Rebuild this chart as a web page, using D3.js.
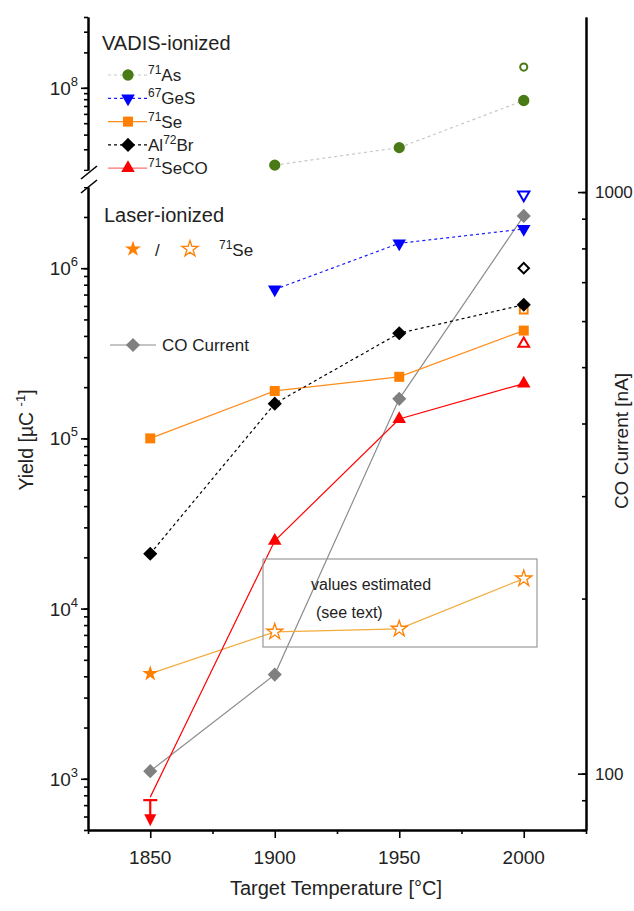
<!DOCTYPE html>
<html>
<head>
<meta charset="utf-8">
<script src="https://cdn.jsdelivr.net/npm/d3@7"></script>
<style>
  body { margin: 0; background: #fff; }
  text { font-family: "Liberation Sans", Arial, sans-serif; fill: #222; }
</style>
</head>
<body>
<div id="chart"></div>
<script>
// yields vs target temperature
const years = [1850, 1900, 1950, 2000];
const as71 = [null, 2.2e7, 3.1e7, 7.8e7];
const ges67 = [null, 7.5e5, 1.4e6, 1.7e6];
const se71 = [1.0e5, 1.9e5, 2.3e5, 4.3e5];
const al72br = [2.1e4, 1.6e5, 4.15e5, 6.1e5];
const seco71 = [780, 2.5e4, 1.3e5, 2.1e5];   // 1850 is an upper limit
const laserSe = [4.15e3, 7.3e3, 7.6e3, 1.5e4]; // 1850 measured, rest estimated
const coCurrent = [101, 148, 441, 910];
// hollow points at 2000
const openVals = [2000, 1.5e8, 2.7e6, 5.7e5, 1.0e6, 3.6e5];

const lowTicks = [1e3, 1e4, 1e5, 1e6];
const rightTicks = [100, 1000];
const xTicks = [1850, 1900, 1950, 2000];

const width = 634, height = 911;

const svg = d3.select('#chart').append('svg')
    .attr('width', width)
    .attr('height', height);

const x = d3.scaleLinear().domain([1825, 2025]).range([88, 586]);
const yLow = d3.scaleLog().domain([500, 3e6]).range([830, 187]);
const yHigh = d3.scaleLog().domain([2e7, 4e8]).range([170, 17]);
const yR = d3.scaleLog().domain([80, 2000]).range([830, 17]);

// minor tick helper
function minors(lo, hi) {
  const out = [];
  for (let e = Math.floor(Math.log10(lo)); e <= Math.ceil(Math.log10(hi)); e++) {
    for (let m = 1; m < 10; m++) {
      const v = m * Math.pow(10, e);
      if (v >= lo * 0.999 && v <= hi * 1.001) out.push(v);
    }
  }
  return out;
}

function styleAxis(g) {
  g.selectAll('path').attr('stroke', '#000').attr('stroke-width', 2);
  g.selectAll('line').attr('stroke', '#000').attr('stroke-width', 1.6);
  g.selectAll('text').remove();
}

// left axis, lower part
svg.append('g').attr('transform', 'translate(88,0)')
  .call(d3.axisLeft(yLow).tickValues(minors(500, 3e6)).tickSize(4).tickSizeOuter(0).tickFormat(''))
  .call(styleAxis);
svg.append('g').attr('transform', 'translate(88,0)')
  .call(d3.axisLeft(yLow).tickValues(lowTicks).tickSize(7).tickSizeOuter(0).tickFormat(''))
  .call(styleAxis);
// left axis, upper part
svg.append('g').attr('transform', 'translate(88,0)')
  .call(d3.axisLeft(yHigh).tickValues(minors(2e7, 4e8)).tickSize(4).tickSizeOuter(0).tickFormat(''))
  .call(styleAxis);
svg.append('g').attr('transform', 'translate(88,0)')
  .call(d3.axisLeft(yHigh).tickValues([1e8]).tickSize(7).tickSizeOuter(0).tickFormat(''))
  .call(styleAxis);

// power-of-ten labels
function powLabel(val, yPos) {
  const t = svg.append('text')
    .attr('x', 78).attr('y', yPos + 7)
    .attr('text-anchor', 'end')
    .style('font-size', '19px');
  t.append('tspan').text('10');
  t.append('tspan').attr('dy', -9).style('font-size', '13px').text(Math.round(Math.log10(val)));
}
lowTicks.forEach(v => powLabel(v, yLow(v)));
powLabel(1e8, yHigh(1e8));

// axis break marks
svg.append('rect').attr('x', 84).attr('y', 171).attr('width', 10).attr('height', 16).attr('fill', '#fff');
[[179, 166], [193, 180]].forEach(p => {
  svg.append('line')
    .attr('x1', 81).attr('y1', p[0]).attr('x2', 97).attr('y2', p[1])
    .attr('stroke', '#000').attr('stroke-width', 1.6);
});

// right axis
svg.append('g').attr('transform', 'translate(586,0)')
  .call(d3.axisLeft(yR).tickValues(minors(80, 1000)).tickSize(4).tickSizeOuter(0).tickFormat(''))
  .call(styleAxis);
svg.append('g').attr('transform', 'translate(586,0)')
  .call(d3.axisLeft(yR).tickValues(rightTicks).tickSize(8).tickSizeOuter(0).tickFormat(''))
  .call(styleAxis);
rightTicks.forEach(v => {
  svg.append('text').attr('x', 595).attr('y', yR(v) + 6)
    .style('font-size', '17px').text(v);
});

// bottom axis
svg.append('g').attr('transform', 'translate(0,830)')
  .call(d3.axisBottom(x).tickValues([1825, 1875, 1925, 1975, 2025]).tickSize(4).tickSizeOuter(0).tickFormat(''))
  .call(styleAxis);
svg.append('g').attr('transform', 'translate(0,830)')
  .call(d3.axisBottom(x).tickValues(xTicks).tickSize(8).tickSizeOuter(0).tickFormat(''))
  .call(styleAxis);
xTicks.forEach(v => {
  svg.append('text').attr('x', x(v)).attr('y', 864)
    .attr('text-anchor', 'middle').style('font-size', '19px').text(v);
});

// axis titles
svg.append('text').attr('x', 336).attr('y', 895)
  .attr('text-anchor', 'middle').style('font-size', '20px')
  .text('Target Temperature [°C]');

const yl = svg.append('text')
  .attr('transform', 'translate(33,440) rotate(-90)')
  .attr('text-anchor', 'middle').style('font-size', '19.5px');
yl.append('tspan').text('Yield  [µC ');
yl.append('tspan').attr('dy', -8).style('font-size', '13px').text('-1');
yl.append('tspan').attr('dy', 8).text(']');

svg.append('text')
  .attr('transform', 'translate(628,441) rotate(-90)')
  .attr('text-anchor', 'middle').style('font-size', '19px')
  .text('CO Current [nA]');

// marker helpers
const sym = {
  circle: d3.symbol().type(d3.symbolCircle).size(100),
  tri: d3.symbol().type(d3.symbolTriangle).size(80),
  square: d3.symbol().type(d3.symbolSquare).size(100),
  diamond: d3.symbol().type(d3.symbolSquare).size(100),
  star: d3.symbol().type(d3.symbolStar).size(80)
};
function marker(g, kind, cx, cy, color, hollow) {
  let rot = 0;
  let key = kind;
  if (kind === 'down') { key = 'tri'; rot = 180; }
  if (kind === 'diamond') rot = 45;
  const p = g.append('path')
    .attr('d', sym[key]())
    .attr('transform', `translate(${cx},${cy}) rotate(${rot})`);
  if (hollow) p.attr('fill', '#fff').attr('stroke', color).attr('stroke-width', kind === 'star' ? 1.3 : 2);
  else p.attr('fill', color);
  return p;
}

function series(vals, yScale, opts) {
  const g = svg.append('g');
  const pts = years.map((yr, i) => [yr, vals[i]]).filter(d => d[1] != null);
  g.append('path')
    .datum(pts)
    .attr('fill', 'none')
    .attr('stroke', opts.line)
    .attr('stroke-width', 1.2)
    .attr('stroke-dasharray', opts.dash || null)
    .attr('d', d3.line().x(d => x(d[0])).y(d => yScale(d[1])));
  pts.forEach((d, i) => {
    if (opts.skipFirst && i === 0) return;
    marker(g, opts.kind, x(d[0]), yScale(d[1]), opts.color, opts.hollowFrom != null && i >= opts.hollowFrom);
  });
  return g;
}

// CO current (right axis)
series(coCurrent, yR, { line: '#8c8c8c', color: '#808080', kind: 'diamond' });

// laser ionized stars
series(laserSe, yLow, { line: '#f2ab3c', color: '#ff7f00', kind: 'star', hollowFrom: 1 });

series(as71, yHigh, { line: '#c8c8c8', dash: '3,3', color: '#4a7a16', kind: 'circle' });
series(ges67, yLow, { line: '#1a1aff', dash: '3,3', color: '#0000ff', kind: 'down' });
series(se71, yLow, { line: '#ff8c1a', color: '#ff8000', kind: 'square' });

// hollow points at 2000
const og = svg.append('g');
marker(og, 'circle', x(openVals[0]), yHigh(openVals[1]), '#4a7a16', true).attr('d', d3.symbol().type(d3.symbolCircle).size(40)());
marker(og, 'down', x(openVals[0]), yLow(openVals[2]), '#0000ff', true).attr('d', d3.symbol().type(d3.symbolTriangle).size(55)());
marker(og, 'square', x(openVals[0]), yLow(openVals[3]), '#ff8000', true).attr('d', d3.symbol().type(d3.symbolSquare).size(60)());
marker(og, 'diamond', x(openVals[0]), yLow(openVals[4]), '#000', true).attr('d', d3.symbol().type(d3.symbolSquare).size(55)());
marker(og, 'tri', x(openVals[0]), yLow(openVals[5]), '#ff0000', true).attr('d', d3.symbol().type(d3.symbolTriangle).size(50)());

series(al72br, yLow, { line: '#000', dash: '3,3', color: '#000', kind: 'diamond' });
series(seco71, yLow, { line: '#ff0000', color: '#ff0000', kind: 'tri', skipFirst: true });

// upper limit arrow for 71SeCO at 1850
const ux = x(years[0]), uy = yLow(seco71[0]) + 3;
svg.append('line').attr('x1', ux - 7).attr('x2', ux + 7).attr('y1', uy).attr('y2', uy)
  .attr('stroke', '#ff0000').attr('stroke-width', 2.2);
svg.append('line').attr('x1', ux).attr('x2', ux).attr('y1', uy).attr('y2', uy + 16)
  .attr('stroke', '#ff0000').attr('stroke-width', 2.2);
svg.append('path')
  .attr('d', `M${ux - 6},${uy + 14} L${ux + 6},${uy + 14} L${ux},${uy + 26} Z`)
  .attr('fill', '#ff0000');

// estimated values box
svg.append('rect').attr('x', 263).attr('y', 559).attr('width', 274).attr('height', 88)
  .attr('fill', 'none').attr('stroke', '#999').attr('stroke-width', 1.2);
svg.append('text').attr('x', 311).attr('y', 590).style('font-size', '16px').text('values estimated');
svg.append('text').attr('x', 316).attr('y', 618).style('font-size', '16px').text('(see text)');

// legend
svg.append('text').attr('x', 102).attr('y', 50).style('font-size', '20px').text('VADIS-ionized');
const legendItems = [
  { iso: '71', name: 'As', line: '#c8c8c8', dash: '3,3', color: '#4a7a16', kind: 'circle' },
  { iso: '67', name: 'GeS', line: '#1a1aff', dash: '3,3', color: '#0000ff', kind: 'down' },
  { iso: '71', name: 'Se', line: '#ff8c1a', color: '#ff8000', kind: 'square' },
  { pre: 'Al', iso: '72', name: 'Br', line: '#000', dash: '3,3', color: '#000', kind: 'diamond' },
  { iso: '71', name: 'SeCO', line: '#ff7070', color: '#ff0000', kind: 'tri' }
];
legendItems.forEach((d, i) => {
  const ly = 75 + i * 23.3;
  const g = svg.append('g');
  g.append('line').attr('x1', 108).attr('x2', 147).attr('y1', ly).attr('y2', ly)
    .attr('stroke', d.line).attr('stroke-width', 1.2).attr('stroke-dasharray', d.dash || null);
  marker(g, d.kind, 128, ly, d.color, false);
  const t = g.append('text').attr('x', 148).attr('y', ly + 6).style('font-size', '17px');
  if (d.pre) t.append('tspan').text(d.pre);
  t.append('tspan').attr('dy', -7).style('font-size', '12px').text(d.iso);
  t.append('tspan').attr('dy', 7).text(d.name);
});

svg.append('text').attr('x', 104).attr('y', 222).style('font-size', '20px').text('Laser-ionized');
const lg = svg.append('g');
marker(lg, 'star', 133, 249, '#ff7f00', false);
lg.append('text').attr('x', 155).attr('y', 256).style('font-size', '17px').text('/');
marker(lg, 'star', 190, 249, '#ff7f00', true);
const st = lg.append('text').attr('x', 219).attr('y', 256).style('font-size', '17px');
st.append('tspan').attr('dy', -7).style('font-size', '12px').text('71');
st.append('tspan').attr('dy', 7).text('Se');

const cg = svg.append('g');
cg.append('line').attr('x1', 110).attr('x2', 156).attr('y1', 345).attr('y2', 345)
  .attr('stroke', '#8c8c8c').attr('stroke-width', 1.2);
marker(cg, 'diamond', 133, 345, '#808080', false);
cg.append('text').attr('x', 162).attr('y', 351).style('font-size', '17px').text('CO Current');
</script>
</body>
</html>
